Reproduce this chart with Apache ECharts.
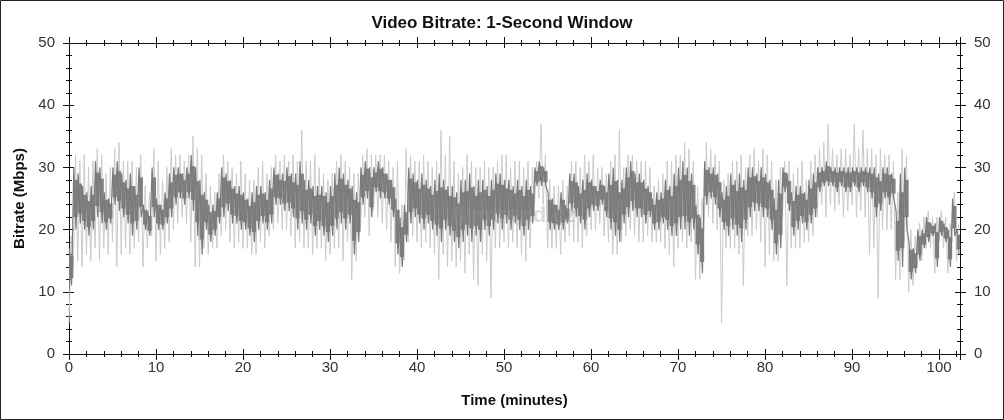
<!DOCTYPE html>
<html><head><meta charset="utf-8">
<script src="https://cdn.jsdelivr.net/npm/echarts@6/dist/echarts.min.js"></script>
<style>html,body{margin:0;padding:0;background:#fff}#c{width:1004px;height:420px}</style>
</head><body><div id="c"></div>
<script>
// Sampling grid: one bucket every half minute, starting at minute 0
const bucketStart = 0;
const bucketStep = 0.5;
const xTicks = [0,10,20,30,40,50,60,70,80,90,100];
const yTicks = [0,10,20,30,40,50];

// Dark band (main 1-second bitrate trace): low / high per bucket (Mbps)
const darkLo = [
11,20,21,20,19,20,22,21,20,21,24,23,22,21,19,20,22,20,19,22,
20,20,21,22,24,25,24,25,23,19,16,20,18,19,21,22,23,21,21,20,
20,19,18,20,21,20,21,24,24,23,23,22,20,21,20,21,19,20,19,18,
19,20,21,20,21,16,18,24,25,22,26,25,25,24,22,16,14,18,21,22,
21,20,21,20,19,18,20,19,18,17,18,19,18,19,18,20,19,20,21,20,
21,20,21,20,19,20,21,27,27,27,20,20,20,20,21,23,22,21,20,22,
23,23,24,22,20,19,18,21,22,23,22,22,21,22,20,20,21,20,19,19,
20,20,19,20,16,13,24,25,24,22,20,19,20,19,18,20,22,23,23,22,
22,20,16,17,26,23,19,20,21,20,21,22,26,27,27,27,26,27,26,26,
27,26,27,26,25,22,23,25,24,25,15,14,20,12,13,15,17,18,19,14,
19,18,14,19,16];
const darkHi = [
17,30,29,27,26,27,31,30,26,25,30,31,29,28,29,27,30,24,23,30,
25,24,26,29,30,30,29,30,32,30,28,26,24,24,26,30,29,28,27,27,
26,25,26,27,27,26,28,30,29,29,30,29,29,31,28,28,27,27,27,26,
27,29,30,29,28,27,26,30,31,30,30,31,30,29,28,25,22,24,30,29,
28,29,28,27,28,29,28,27,27,26,28,28,29,27,28,28,27,28,29,29,
28,28,27,28,27,28,27,30,31,30,26,25,24,26,24,29,29,27,28,29,
28,27,28,27,29,30,28,28,30,31,29,29,28,27,25,26,26,28,27,29,
30,31,30,29,24,22,31,30,30,29,26,27,29,28,29,28,30,30,29,30,
29,28,25,28,30,29,26,27,27,26,28,29,30,30,31,30,30,30,30,30,
30,30,30,30,30,30,29,30,30,29,23,29,30,18,17,20,20,22,21,21,
22,21,20,25,20];
// Light spikes around the trace: low / high per bucket (Mbps)
const lightLo = [
5,14,15,14,16,15,17,15,17,16,18,14,16,17,16,17,18,14,17,19,
15,16,17,18,20,21,22,21,18,14,14,17,16,17,17,19,20,18,17,18,
17,17,16,16,18,17,19,20,21,20,20,19,17,18,17,17,16,17,17,15,
16,17,17,15,18,12,15,20,22,19,23,22,21,20,18,14,13,15,18,19,
18,17,18,17,16,12,16,14,15,14,15,13,16,12,11,16,15,9,17,17,
18,17,18,17,16,15,17,24,25,24,17,17,17,16,18,19,18,18,17,19,
20,20,21,19,18,16,16,18,19,20,19,18,18,19,18,18,18,17,16,14,
17,18,17,18,12,12,20,22,21,20,5,17,17,17,16,11,19,19,20,18,
14,16,15,15,22,11,17,17,17,18,18,19,22,24,22,24,23,24,22,23,
24,22,23,22,16,17,9,20,20,20,12,12,18,10,11,14,15,17,17,13,
18,17,13,18,15];
const lightHi = [
19,32,31,32,30,31,33,32,29,30,33,34,31,31,31,30,32,27,26,33,
31,28,30,33,32,32,31,32,35,33,32,29,27,26,29,32,31,30,29,31,
29,28,28,30,31,29,30,32,31,32,31,32,31,36,31,31,32,30,29,28,
29,31,32,31,30,29,29,32,33,32,32,32,32,31,30,31,24,33,32,31,
31,32,31,30,31,36,32,35,31,29,30,32,31,30,30,31,30,30,31,32,
32,30,31,31,30,31,30,31,37,32,28,27,27,28,27,31,31,30,32,31,
32,30,30,29,31,32,36,30,32,32,31,31,31,30,27,28,29,31,31,32,
32,34,33,31,27,25,34,33,32,31,28,29,31,31,32,30,32,33,31,33,
32,31,28,30,31,31,29,30,31,28,31,32,33,34,37,33,32,33,33,32,
37,33,36,33,33,32,33,32,32,31,26,33,32,20,19,21,22,23,22,22,
23,22,21,26,21];

const half = bucketStep / 2;
const darkBand = darkLo.map((lo, i) => [bucketStart + i * bucketStep, lo, darkHi[i]]);
const darkLine = [], lightLine = [];
darkLo.forEach((lo, i) => {
  const t = bucketStart + i * bucketStep;
  darkLine.push([t + 0.05, darkHi[i]], [t + 0.3, lo]);
  lightLine.push([t, lightLo[i]], [t + half, lightHi[i]]);
});

function coreRender(color, inset) {
  return function (params, api) {
    const t = api.value(0), lo = api.value(1), hi = api.value(2);
    const d = (hi - lo) * inset;
    const p1 = api.coord([t, hi - d]);
    const p2 = api.coord([t + bucketStep, lo + d]);
    const cs = params.coordSys;
    const x = Math.max(p1[0], cs.x), x2 = Math.min(p2[0], cs.x + cs.width);
    return { type: 'rect', shape: { x: x, y: p1[1], width: Math.max(0, x2 - x), height: p2[1] - p1[1] },
      style: { fill: color } };
  };
}

const FONT = 'Liberation Sans, Arial, sans-serif';
const AX = '#111';
function xAx(pos, labels, inside) {
  return {
    type: 'value', position: pos, min: 0, max: 102.4, interval: 10,
    axisLine: { show: !inside, onZero: false, lineStyle: { color: AX, width: 1 } },
    axisTick: { show: true, inside: inside, length: inside ? 5 : 6, lineStyle: { color: AX } },
    minorTick: { show: true, splitNumber: 5, length: 3, lineStyle: { color: AX } },
    axisLabel: { show: labels, color: '#333', fontSize: 15, fontFamily: FONT, margin: 6, showMaxLabel: false,
      formatter: v => xTicks.includes(v) ? String(v) : '' },
    splitLine: { show: false },
    name: labels ? 'Time (minutes)' : '', nameLocation: 'middle', nameGap: 39,
    nameTextStyle: { color: '#111', fontSize: 15, fontWeight: 'bold', fontFamily: FONT }
  };
}
function yAx(pos, labels, inside, name) {
  return {
    type: 'value', position: pos, min: 0, max: 50, interval: 10,
    axisLine: { show: !inside, onZero: false, lineStyle: { color: AX, width: 1 } },
    axisTick: { show: true, inside: inside, length: inside ? 5 : 6, lineStyle: { color: AX } },
    minorTick: { show: true, splitNumber: 5, length: 3, lineStyle: { color: AX } },
    axisLabel: { show: labels, color: '#333', fontSize: 15, fontFamily: FONT, margin: 14,
      formatter: v => yTicks.includes(v) ? String(v) : '' },
    splitLine: { show: false },
    name: name || '', nameLocation: 'middle', nameGap: 41, nameRotate: 90,
    nameTextStyle: { color: '#111', fontSize: 15, fontWeight: 'bold', fontFamily: FONT }
  };
}

const chart = echarts.init(document.getElementById('c'), null, { renderer: 'canvas' });
chart.setOption({
  animation: false,
  backgroundColor: '#fff',
  title: { text: 'Video Bitrate: 1-Second Window', left: 'center', top: 10,
    textStyle: { color: '#111', fontSize: 17, fontWeight: 'bold', fontFamily: FONT } },
  grid: { left: 69, right: 44, top: 43, bottom: 66 },
  xAxis: [xAx('bottom', true, false), xAx('bottom', false, true), xAx('top', false, false), xAx('top', false, true)],
  yAxis: [yAx('left', true, false, 'Bitrate (Mbps)'), yAx('left', false, true), yAx('right', true, false), yAx('right', false, true)],
  graphic: [
    { type: 'rect', z: 100, silent: true, shape: { x: 0.5, y: 0.5, width: 1003, height: 419 },
      style: { fill: 'none', stroke: '#222', lineWidth: 1 } },
    { type: 'text', z: 50, silent: true, left: 452, top: 205,
      style: { text: 'filmtrend.cz', fill: 'rgba(150,150,150,0.35)', font: 'bold 22px ' + FONT } }
  ],
  series: [
    { type: 'line', data: lightLine, showSymbol: false, sampling: null, z: 2,
      lineStyle: { color: '#cbcbcb', width: 1 } },
    { type: 'custom', data: darkBand, z: 3, renderItem: coreRender('#828282', 0.2), encode: { x: 0, y: [1, 2] } },
    { type: 'line', data: darkLine, showSymbol: false, sampling: null, z: 4,
      lineStyle: { color: '#7a7a7a', width: 1.2 } }
  ]
});
</script></body></html>
